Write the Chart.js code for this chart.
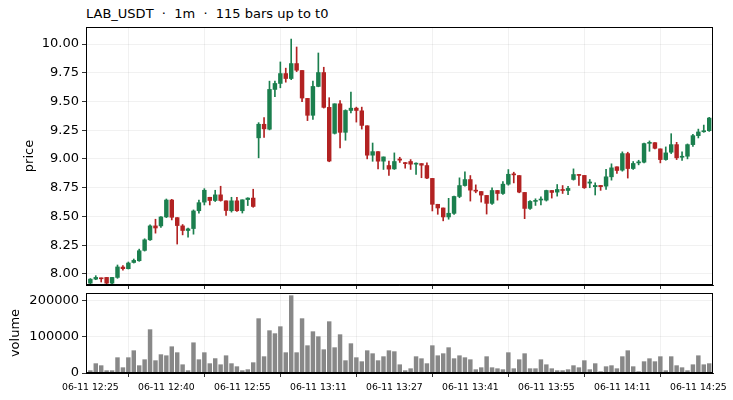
<!DOCTYPE html>
<html>
<head>
<meta charset="utf-8">
<script src="https://cdn.jsdelivr.net/npm/chart.js@4/dist/chart.umd.min.js"></script>
<style>
  html, body { margin: 0; padding: 0; background: #fff; }
  body { width: 733px; height: 400px; position: relative; overflow: hidden; font-family: "DejaVu Sans", sans-serif; }
  #title { position: absolute; left: 86px; top: 7px; font-size: 13px; line-height: 13px; white-space: pre; color: #000; }
  #priceBox { position: absolute; left: 0; top: 0; width: 733px; height: 289px; }
  #volBox { position: absolute; left: 0; top: 289px; width: 733px; height: 111px; }
</style>
</head>
<body>
<div id="title">LAB_USDT  ·  1m  ·  115 bars up to t0</div>
<div id="priceBox"><canvas id="priceChart"></canvas></div>
<div id="volBox"><canvas id="volumeChart"></canvas></div>
<script>
// OHLC per 1m bar
const opens = [
  7.920, 7.955, 7.962, 7.970, 7.920, 7.970, 8.060, 8.046, 8.100, 8.115,
  8.205, 8.297, 8.418, 8.418, 8.496, 8.643, 8.490, 8.418, 8.378, 8.395,
  8.550, 8.625, 8.667, 8.639, 8.688, 8.636, 8.550, 8.636, 8.550, 8.647,
  8.660, 9.184, 9.302, 9.259, 9.605, 9.657, 9.743, 9.700, 9.830, 9.770,
  9.527, 9.380, 9.631, 9.752, 9.449, 9.223, 9.480, 9.232, 9.422, 9.442,
  9.419, 9.289, 9.033, 9.064, 8.981, 8.943, 8.914, 9.000, 8.966, 8.978,
  8.955, 8.960, 8.943, 8.831, 8.606, 8.574, 8.496, 8.527, 8.674, 8.769,
  8.821, 8.729, 8.717, 8.683, 8.614, 8.726, 8.700, 8.781, 8.870, 8.856,
  8.709, 8.570, 8.631, 8.643, 8.642, 8.726, 8.712, 8.735, 8.726, 8.822,
  8.865, 8.857, 8.790, 8.759, 8.770, 8.764, 8.845, 8.932, 8.903, 9.047,
  8.917, 8.966, 8.972, 9.136, 9.142, 9.088, 8.995, 9.059, 9.125, 9.015,
  9.024, 9.125, 9.203, 9.237, 9.246
];
const highs = [
  7.960, 7.985, 7.965, 7.970, 7.970, 8.078, 8.072, 8.104, 8.130, 8.216,
  8.306, 8.427, 8.476, 8.500, 8.652, 8.649, 8.490, 8.430, 8.398, 8.557,
  8.643, 8.742, 8.667, 8.728, 8.763, 8.636, 8.667, 8.667, 8.645, 8.663,
  8.737, 9.316, 9.360, 9.677, 9.677, 9.844, 9.790, 10.043, 9.974, 9.770,
  9.527, 9.677, 9.922, 9.798, 9.533, 9.480, 9.509, 9.428, 9.581, 9.451,
  9.451, 9.289, 9.139, 9.064, 9.018, 8.981, 9.053, 9.015, 8.970, 8.995,
  8.966, 8.960, 8.966, 8.831, 8.606, 8.574, 8.658, 8.677, 8.836, 8.888,
  8.856, 8.775, 8.717, 8.683, 8.749, 8.726, 8.804, 8.908, 8.885, 8.856,
  8.709, 8.639, 8.654, 8.671, 8.729, 8.726, 8.778, 8.769, 8.763, 8.914,
  8.865, 8.857, 8.822, 8.793, 8.770, 8.909, 8.958, 8.932, 9.062, 9.059,
  8.978, 8.989, 9.139, 9.157, 9.142, 9.088, 9.105, 9.220, 9.145, 9.062,
  9.131, 9.214, 9.260, 9.295, 9.362
];
const lows = [
  7.910, 7.950, 7.930, 7.910, 7.910, 7.962, 8.032, 8.043, 8.095, 8.110,
  8.199, 8.291, 8.355, 8.404, 8.490, 8.470, 8.260, 8.340, 8.320, 8.346,
  8.528, 8.600, 8.600, 8.630, 8.633, 8.509, 8.538, 8.543, 8.530, 8.595,
  8.580, 9.010, 9.187, 9.253, 9.541, 9.619, 9.668, 9.690, 9.760, 9.498,
  9.334, 9.345, 9.628, 9.443, 8.976, 9.217, 9.096, 9.163, 9.400, 9.321,
  9.260, 9.001, 8.980, 8.914, 8.909, 8.857, 8.909, 8.970, 8.920, 8.909,
  8.865, 8.837, 8.828, 8.548, 8.519, 8.462, 8.476, 8.518, 8.663, 8.763,
  8.634, 8.706, 8.625, 8.521, 8.605, 8.642, 8.691, 8.772, 8.792, 8.706,
  8.481, 8.562, 8.596, 8.600, 8.634, 8.660, 8.677, 8.700, 8.690, 8.816,
  8.770, 8.744, 8.750, 8.687, 8.727, 8.736, 8.816, 8.874, 8.894, 8.834,
  8.909, 8.949, 8.966, 9.067, 9.088, 8.966, 8.989, 9.047, 8.995, 8.987,
  9.001, 9.110, 9.183, 9.232, 9.240
];
const closes = [
  7.955, 7.970, 7.958, 7.920, 7.970, 8.061, 8.046, 8.095, 8.118, 8.202,
  8.297, 8.418, 8.400, 8.496, 8.643, 8.493, 8.421, 8.378, 8.392, 8.548,
  8.620, 8.728, 8.639, 8.688, 8.639, 8.552, 8.636, 8.550, 8.645, 8.660,
  8.587, 9.302, 9.262, 9.605, 9.657, 9.743, 9.700, 9.830, 9.772, 9.530,
  9.380, 9.631, 9.752, 9.449, 8.982, 9.480, 9.232, 9.422, 9.442, 9.422,
  9.292, 9.033, 9.064, 8.981, 9.018, 8.912, 8.978, 8.990, 8.960, 8.955,
  8.960, 8.946, 8.834, 8.606, 8.574, 8.496, 8.528, 8.674, 8.769, 8.821,
  8.729, 8.720, 8.686, 8.614, 8.726, 8.700, 8.781, 8.867, 8.862, 8.712,
  8.570, 8.631, 8.640, 8.650, 8.726, 8.709, 8.735, 8.726, 8.744, 8.865,
  8.857, 8.750, 8.800, 8.770, 8.759, 8.845, 8.923, 8.900, 9.047, 8.917,
  8.961, 8.975, 9.134, 9.145, 9.093, 8.995, 9.053, 9.125, 9.010, 9.024,
  9.125, 9.203, 9.235, 9.246, 9.356
];
const volumes = [
  6500, 26000, 20400, 6500, 6500, 42600, 14800, 42600, 62000, 20400,
  37000, 120400, 34300, 51000, 48000, 73000, 56500, 23000, 6500, 84000,
  37000, 56500, 26000, 40000, 23000, 48000, 26000, 17600, 6500, 9300,
  28700, 151000, 45400, 117600, 109300, 128700, 56500, 214800, 56500, 151000,
  75900, 114800, 100900, 64800, 142600, 70400, 106500, 34300, 81500, 42600,
  31500, 62000, 53700, 34300, 45400, 62000, 59300, 23000, 6500, 12000,
  45400, 39800, 26000, 75900, 48000, 53700, 70400, 39800, 48000, 42600,
  37000, 9300, 14800, 45400, 14800, 12000, 9300, 56500, 12000, 37000,
  53700, 12000, 12000, 37000, 23000, 12000, 6500, 6500, 9300, 20400,
  14800, 34300, 9300, 26000, 3700, 17600, 20400, 12000, 45400, 62000,
  17600, 3700, 31500, 39800, 31500, 45400, 6500, 45400, 20400, 14800,
  6500, 23000, 48000, 23000, 26000
];
const tickBars = [0, 14, 28, 42, 56, 70, 84, 98, 112];
const tickLabels = ['06-11 12:25', '06-11 12:40', '06-11 12:55', '06-11 13:11', '06-11 13:27',
                    '06-11 13:41', '06-11 13:55', '06-11 14:11', '06-11 14:25'];
const priceTicks = [8.00, 8.25, 8.50, 8.75, 9.00, 9.25, 9.50, 9.75, 10.00];
const volumeTicks = [0, 100000, 200000];

const UP = '#1b7f4e';
const DOWN = '#b22222';
const VOL = '#888888';
const GRID = 'rgba(0,0,0,0.07)';

Chart.defaults.font.family = '"DejaVu Sans", sans-serif';
Chart.defaults.color = '#000';
Chart.defaults.animation = false;

const candleColors = opens.map((o, i) => closes[i] >= o ? UP : DOWN);

// draws the closed black box around each panel
const frame = {
  id: 'frame',
  afterDraw(chart) {
    const a = chart.chartArea, ctx = chart.ctx;
    ctx.save();
    ctx.strokeStyle = '#000';
    ctx.lineWidth = 1;
    ctx.strokeRect(Math.round(a.left) + 0.5, Math.round(a.top) + 0.5,
                   Math.round(a.right - a.left) - 1, Math.round(a.bottom - a.top) - 1);
    ctx.restore();
  }
};

function xAxis(showLabels, height) {
  return {
    type: 'linear',
    min: -0.8,
    max: 114.7,
    offset: false,
    afterBuildTicks: s => { s.ticks = tickBars.map(v => ({ value: v })); },
    afterFit: s => { s.height = height; },
    ticks: {
      display: showLabels,
      autoSkip: false,
      maxRotation: 0,
      padding: 5,
      font: { size: 9.3 },
      callback: v => tickLabels[tickBars.indexOf(v)]
    },
    grid: { color: GRID, tickColor: '#000', tickLength: 4, lineWidth: 0.8 },
    border: { color: '#000' }
  };
}

// fixed width, and no extra room asked for the half-height of the end labels
function fitY(s) {
  s.width = 86;
  s.paddingTop = 0;
  s.paddingBottom = 0;
}

new Chart(document.getElementById('priceChart'), {
  type: 'bar',
  data: {
    datasets: [
      {
        label: 'body',
        data: opens.map((o, i) => ({ x: i, y: [o, closes[i]] })),
        backgroundColor: candleColors,
        barThickness: 3.8,
        minBarLength: 1,
        grouped: false
      },
      {
        label: 'wick',
        data: lows.map((l, i) => ({ x: i, y: [l, highs[i]] })),
        backgroundColor: candleColors,
        barThickness: 1,
        grouped: false
      }
    ]
  },
  options: {
    responsive: true,
    maintainAspectRatio: false,
    layout: { padding: { top: 27, right: 20, bottom: 0, left: 0 } },
    plugins: { legend: { display: false }, tooltip: { enabled: false } },
    scales: {
      x: xAxis(false, 4),
      y: {
        min: 7.904,
        max: 10.148,
        afterBuildTicks: s => { s.ticks = priceTicks.map(v => ({ value: v })); },
        afterFit: fitY,
        ticks: { font: { size: 13 }, padding: 3, callback: v => v.toFixed(2) },
        grid: { color: GRID, tickColor: '#000', tickLength: 4, lineWidth: 0.8 },
        border: { color: '#000' },
        title: { display: true, text: 'price', font: { size: 13 }, padding: { top: 22, bottom: 0 } }
      }
    }
  },
  plugins: [frame]
});

new Chart(document.getElementById('volumeChart'), {
  type: 'bar',
  data: {
    datasets: [{
      label: 'volume',
      data: volumes.map((v, i) => ({ x: i, y: v })),
      backgroundColor: VOL,
      barThickness: 3.8
    }]
  },
  options: {
    responsive: true,
    maintainAspectRatio: false,
    layout: { padding: { top: 4, right: 20, bottom: 0, left: 0 } },
    plugins: { legend: { display: false }, tooltip: { enabled: false } },
    scales: {
      x: xAxis(true, 27),
      y: {
        min: 0,
        max: 222222,
        afterBuildTicks: s => { s.ticks = volumeTicks.map(v => ({ value: v })); },
        afterFit: fitY,
        ticks: { font: { size: 13 }, padding: 3, callback: v => String(v) },
        grid: { color: GRID, tickColor: '#000', tickLength: 4, lineWidth: 0.8 },
        border: { color: '#000' },
        title: { display: true, text: 'volume', font: { size: 13 }, padding: { top: 8, bottom: 0 } }
      }
    }
  },
  plugins: [frame]
});
</script>
</body>
</html>
